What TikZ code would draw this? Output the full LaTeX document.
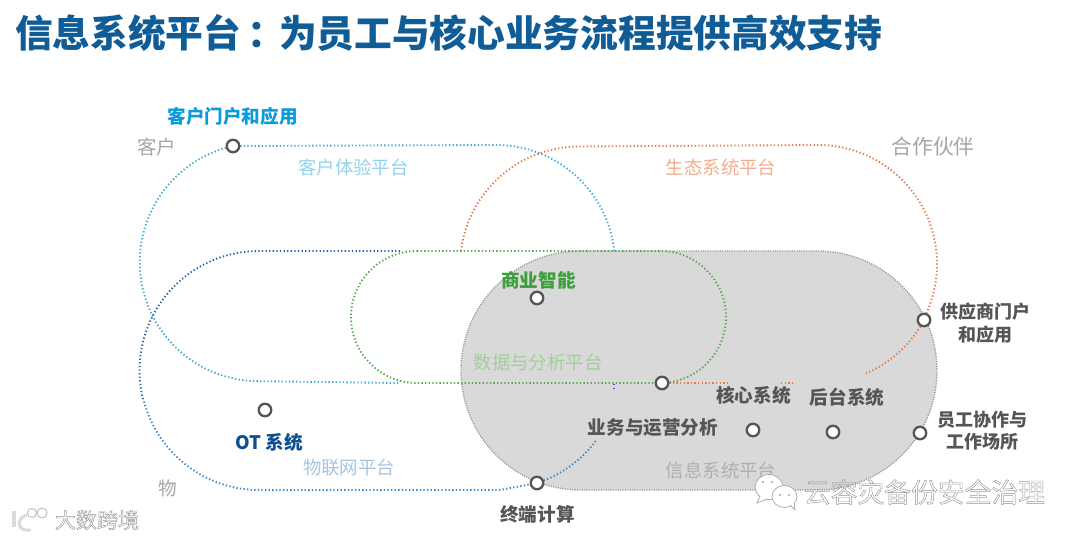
\documentclass[tikz,border=0pt]{standalone}
\usepackage{fontspec}
\setmainfont{Noto Sans CJK SC}
\definecolor{ttl}{HTML}{0F5C96}
\definecolor{cyanB}{HTML}{0A9BD8}
\definecolor{cyanL}{HTML}{93D2EE}
\definecolor{custline}{HTML}{45A9D6}
\definecolor{orgline}{HTML}{E8794A}
\definecolor{orgL}{HTML}{F2AE90}
\definecolor{greenB}{HTML}{3C9E3C}
\definecolor{greenline}{HTML}{56A84E}
\definecolor{greenL}{HTML}{A3CE9C}
\definecolor{navyB}{HTML}{0E4F92}
\definecolor{navyline}{HTML}{2E62A4}
\definecolor{iotline}{HTML}{3C86C4}
\definecolor{iotL}{HTML}{A8C5E0}
\definecolor{darkT}{HTML}{555555}
\definecolor{midT}{HTML}{A6A6A6}
\definecolor{greyfill}{HTML}{D9D9D9}
\newcommand{\hollow}[1]{\special{pdf:code q 1 Tr 0.45 w 0.58 G}#1\special{pdf:code Q}}
\tikzset{
  x=1pt,y=-1pt,
  hub/.style={circle,draw=darkT,line width=2.3pt,fill=white,minimum size=12.5pt,inner sep=0pt},
  dots/.style={line width=1.9pt,dash pattern=on 1.3pt off 2.3pt},
  lbl/.style={inner sep=0pt,font=\fontsize{18.6}{23}\selectfont},
  blbl/.style={lbl,font=\fontsize{18.6}{23}\selectfont\bfseries},
  plat/.style={lbl,font=\fontsize{18.4}{23}\selectfont},
  wmfill/.style={draw=midT,line width=0.7pt,fill=white}
}
\pgfdeclarelayer{under}
\pgfsetlayers{under,main}
\begin{document}
\begin{tikzpicture}
\begin{pgfonlayer}{under}
\path[use as bounding box,fill=white] (0,0) rectangle (1080,540);
\end{pgfonlayer}
% title
\node[anchor=west,inner sep=0pt,text=ttl,font=\fontsize{37.7}{40}\selectfont\bfseries] (title) at (15,33) {信息系统平台\kern6pt：\kern-6pt为员工与核心业务流程提供高效支持};
% hubs
\node[hub] (hubportal) at (233,146) {};
\node[hub] (hubbi) at (537,298) {};
\node[hub] (hubot) at (265,410) {};
\node[hub] (hubops) at (662,383) {};
\node[hub] (hubcore) at (753,430) {};
\node[hub] (hubback) at (833,432) {};
\node[hub] (hubsup) at (924,320) {};
\node[hub] (hubstaff) at (920,433) {};
\node[hub] (hubedge) at (537,483) {};
\begin{pgfonlayer}{under}
% information platform
\fill[greyfill] (580.5,251) -- (817.5,251) arc[start angle=270,end angle=450,radius=119.5] -- (580.5,490) arc[start angle=90,end angle=270,radius=119.5] -- cycle;
\draw[line width=1.4pt,dash pattern=on 1.1pt off 1.3pt,draw=gray!80] (580.5,251) -- (817.5,251) arc[start angle=270,end angle=450,radius=119.5] -- (580.5,490) arc[start angle=90,end angle=270,radius=119.5] -- cycle;
% customer platform
\draw[dots,custline] (hubportal.center) arc[start angle=257.5,end angle=90,radius=119] -- (400,383);
\draw[dots,custline] (hubportal.center) -- (496,145) arc[start angle=270,end angle=354,radius=119];
\draw[dots,navyline] (614,384) -- (614,390);
% partner platform
\draw[dots,orgline] (461,251) arc[start angle=187,end angle=270,radius=119] -- (818,145) arc[start angle=270,end angle=388,radius=119] -- (hubsup.center);
\draw[dots,orgline] (hubsup.center) arc[start angle=28,end angle=67,radius=119];
\draw[dots,orgline] (hubops.center) -- (730,383);
\draw[dots,orgline] (781,383) -- (793,383);
% iot platform
\draw[dots,navyline] (400,251) -- (259,251) arc[start angle=270,end angle=165,radius=119.5];
\draw[dots,iotline] (144,401.5) arc[start angle=165,end angle=90,radius=119.5] -- (500,490) -- (hubedge.center);
\draw[dots,iotline] (hubedge.center) arc[start angle=72,end angle=36,radius=119.5];
% analytics platform
\draw[dots,greenline] (417,251) -- (660,251) arc[start angle=270,end angle=450,radius=66] -- (417,383) arc[start angle=90,end angle=270,radius=66] -- cycle;
\end{pgfonlayer}
% labels
\node[blbl,text=cyanB] (l1) at (232.5,116) {客户门户和应用};
\node[lbl,text=midT,font=\fontsize{19.5}{23}\selectfont] (l2) at (156.5,147) {客户};
\node[plat,text=cyanL] (l3) at (353.5,167) {客户体验平台};
\node[lbl,text=midT,font=\fontsize{20.8}{23}\selectfont] (l4) at (933,147) {合作伙伴};
\node[plat,text=orgL] (l5) at (721,167) {生态系统平台};
\node[blbl,text=greenB] (l6) at (538.5,280) {商业智能};
\node[plat,text=greenL] (l7) at (538,362) {数据与分析平台};
\node[blbl,text=darkT,align=center,font=\fontsize{18}{23}\selectfont\bfseries] (l8) at (985,323.5) {供应商门户\\和应用};
\node[blbl,text=darkT] (l9) at (753.5,395) {核心系统};
\node[blbl,text=darkT] (l10) at (847,397) {后台系统};
\node[blbl,text=darkT] (l11) at (653,428) {业务与运营分析};
\node[blbl,text=darkT,align=center,font=\fontsize{18}{22}\selectfont\bfseries] (l12) at (982,431) {员工协作与\\工作场所};
\node[blbl,text=navyB] (l13) at (269,442) {OT 系统};
\node[plat,text=iotL] (l14) at (349,468) {物联网平台};
\node[lbl,text=midT] (l15) at (167.5,488) {物};
\node[plat,text=midT!90] (l16) at (721,470) {信息系统平台};
\node[blbl,text=darkT] (l17) at (537.5,514) {终端计算};
% watermark right
\filldraw[wmfill] (769,487) ellipse[x radius=14,y radius=12.5];
\filldraw[wmfill] (760,496) -- (757,503) -- (767,499);
\filldraw[wmfill] (784.5,496.5) ellipse[x radius=12.5,y radius=11];
\filldraw[wmfill] (790,505) -- (795,510) -- (794,503);
\foreach \p in {(763,482),(772,482),(780,495),(789,495)} \fill[midT] \p circle[radius=1.2];
\node[inner sep=0pt,text=midT,font=\fontsize{26.8}{30}\selectfont] (wm1) at (924.5,492) {\hollow{云容灾备份安全治理}};
% watermark left
\draw[line width=4pt,draw=gray!28] (14,511) -- (14,527);
\draw[line width=3pt,draw=gray!28,line cap=round] (26,515) .. controls (15,520) and (18,532) .. (30,530);
\draw[draw=gray!50,line width=1pt] (32,513) circle[radius=4.5];
\draw[draw=gray!50,line width=1pt] (42,513) circle[radius=5];
\node[inner sep=0pt,text=midT,font=\fontsize{21}{25}\selectfont] (wm2) at (97,520) {\hollow{大数跨境}};
\end{tikzpicture}
\end{document}
